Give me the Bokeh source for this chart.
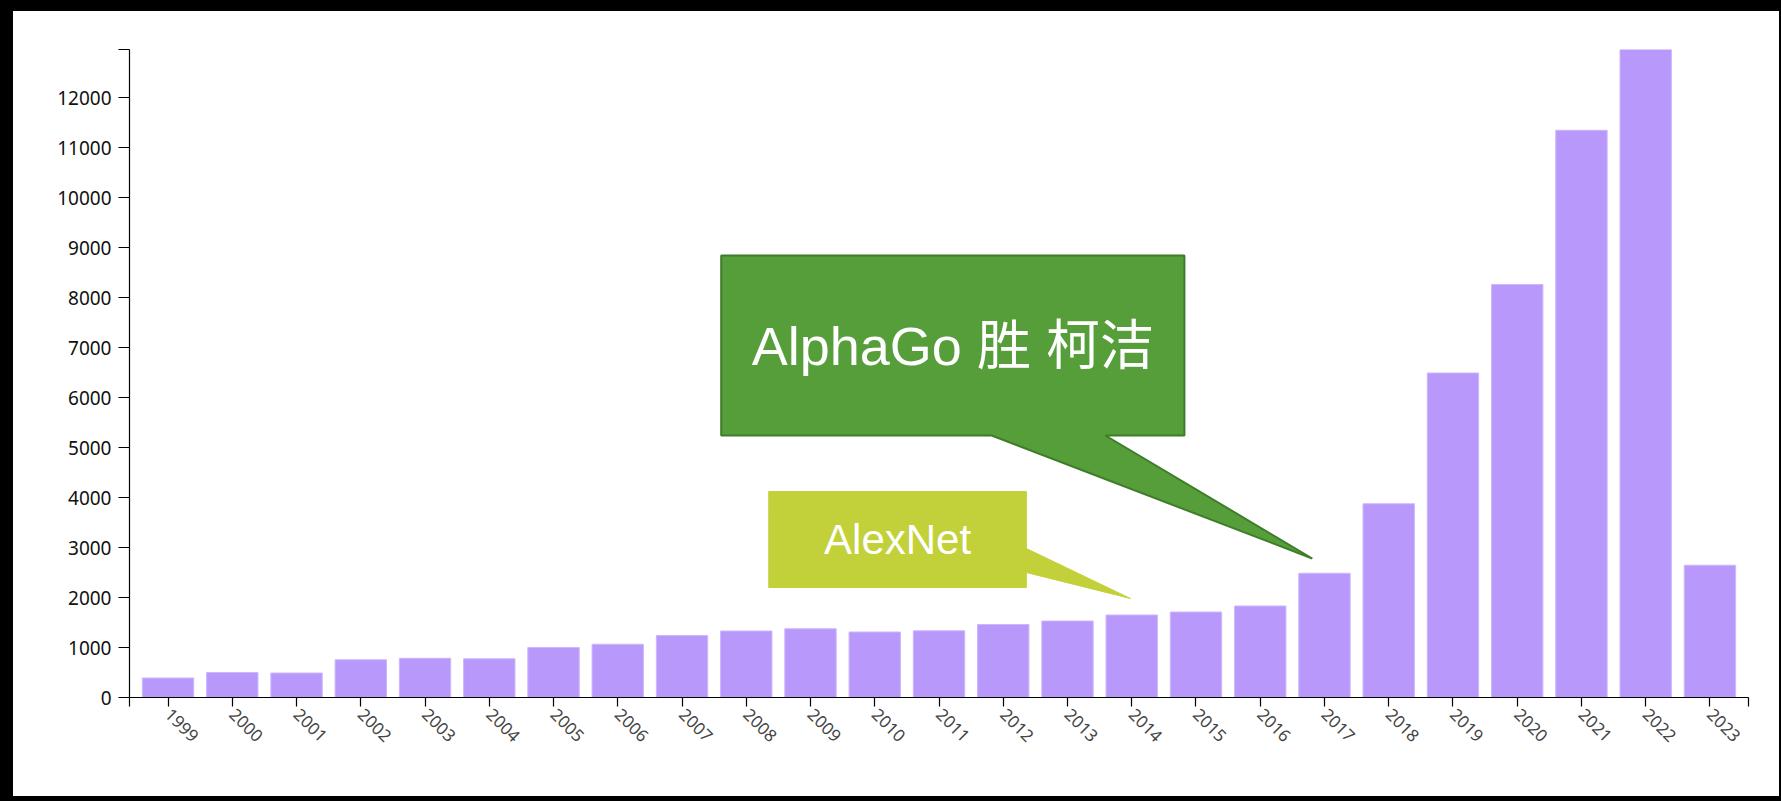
import math
from bokeh.plotting import figure
from bokeh.models import Range1d, FixedTicker
from bokeh.core.properties import value
from bokeh.embed import file_html
from bokeh.resources import INLINE

# ---- data ----
years = ["1999", "2000", "2001", "2002", "2003", "2004", "2005", "2006", "2007",
         "2008", "2009", "2010", "2011", "2012", "2013", "2014", "2015", "2016",
         "2017", "2018", "2019", "2020", "2021", "2022", "2023"]
counts = [390, 500, 490, 755, 785, 775, 1000, 1065, 1240,
          1330, 1375, 1310, 1335, 1460, 1530, 1650, 1710, 1830,
          2485, 3875, 6490, 8260, 11345, 12960, 2645]
y_ticks = [0, 1000, 2000, 3000, 4000, 5000, 6000, 7000, 8000, 9000, 10000, 11000, 12000]

callout_labels = ["AlphaGo 胜 柯洁", "AlexNet"]
callout_years = ["2017", "2014"]

# ---- layout ----
idx = list(range(len(years)))
y_top = max(counts)
pad = 0.6

p = figure(width=1766, height=785, output_backend="svg", toolbar_location=None,
           x_range=Range1d(-pad, len(years) - 1 + pad), y_range=Range1d(0, y_top),
           min_border_left=116, min_border_right=31, min_border_top=38, min_border_bottom=99,
           background_fill_color="white", border_fill_color="white",
           outline_line_color=None,
           styles={"margin-left": "13px", "margin-top": "11px",
                   "box-shadow": "0 0 0 60px #000"})
p.grid.visible = False

p.vbar(x=idx, top=counts, bottom=0, width=0.8,
       fill_color="#b998fc", line_color="#cbb8fb", line_width=1)

# x axis
xt = [-pad] + idx + [len(years) - 1 + pad]
p.xaxis.ticker = FixedTicker(ticks=xt)
ov = {i: years[i] for i in idx}
ov[-pad] = ""
ov[len(years) - 1 + pad] = ""
p.xaxis.major_label_overrides = ov
p.xaxis.major_label_orientation = -math.pi / 4
p.xaxis.major_tick_in = 0
p.xaxis.major_tick_out = 9
p.xaxis.minor_tick_line_color = None
p.xaxis.axis_line_color = "black"
p.xaxis.major_tick_line_color = "black"
p.xaxis.axis_line_width = 1.2
p.xaxis.major_tick_line_width = 1.2
p.xaxis.major_label_text_font = "Noto Sans"
p.xaxis.major_label_text_font_size = "17px"
p.xaxis.major_label_text_color = "#444444"
p.xaxis.major_label_standoff = 5

# y axis
p.yaxis.ticker = FixedTicker(ticks=y_ticks + [y_top])
p.yaxis.major_label_overrides = {y_top: ""}
p.yaxis.major_tick_in = 0
p.yaxis.major_tick_out = 11
p.yaxis.minor_tick_line_color = None
p.yaxis.axis_line_color = "black"
p.yaxis.major_tick_line_color = "black"
p.yaxis.axis_line_width = 1.2
p.yaxis.major_tick_line_width = 1.2
p.yaxis.major_label_text_font = "Noto Sans"
p.yaxis.major_label_text_font_size = "19px"
p.yaxis.major_label_text_color = "#111111"
p.yaxis.major_label_standoff = 7

# ---- callouts (data units, tips anchored above target bars) ----
def bar(year):
    i = years.index(year)
    return i, counts[i]

# AlphaGo callout: box + pointer from bottom edge
i0, v0 = bar(callout_years[0])
tip0 = (i0 - 0.19, v0 + 295)
bx0, by0 = (8.61, 15.82), (5240, 8840)
gx = [bx0[0], bx0[1], bx0[1], 14.59, tip0[0], 12.82, bx0[0]]
gy = [by0[1], by0[1], by0[0], by0[0], tip0[1], by0[0], by0[0]]
p.patch(gx, gy, fill_color="#559e39", line_color="#3f7d2a", line_width=2)

# AlexNet callout: box + pointer from right edge
i1, v1 = bar(callout_years[1])
tip1 = (i1 - 0.02, v1 + 330)
bx1, by1 = (9.35, 13.36), (2200, 4120)
ax = [bx1[0], bx1[1], bx1[1], tip1[0], bx1[1], bx1[1], bx1[0]]
ay = [by1[1], by1[1], 2980, tip1[1], 2500, by1[0], by1[0]]
p.patch(ax, ay, fill_color="#c2d13a", line_color="#c2d13a", line_width=1)

p.text(x=[sum(bx0) / 2], y=[sum(by0) / 2], text=[callout_labels[0]],
       text_font=value("Liberation Sans, Noto Sans CJK SC"), text_font_size="54px",
       text_color="white", text_align="center", text_baseline="middle")
p.text(x=[sum(bx1) / 2], y=[sum(by1) / 2], text=[callout_labels[1]],
       text_font=value("Liberation Sans, Noto Sans CJK SC"), text_font_size="42px",
       text_color="white", text_align="center", text_baseline="middle")

open("out.html", "w").write(file_html(p, INLINE))
